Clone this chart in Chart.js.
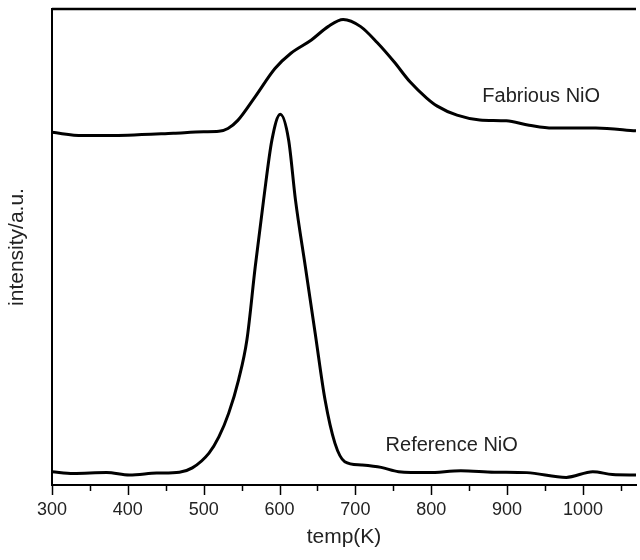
<!DOCTYPE html>
<html>
<head>
<meta charset="utf-8">
<script src="https://cdn.jsdelivr.net/npm/chart.js@4"></script>
<style>
  html, body { margin: 0; padding: 0; background: #fff; }
  #wrap { width: 640px; height: 560px; position: relative; }
</style>
</head>
<body>
<div id="wrap"><canvas id="tpr"></canvas></div>
<script>
// 온도(K)와 세기 값
const fabTemp = [300, 340, 400, 460, 500, 520, 532, 545, 568, 594, 615, 642, 664, 684, 707, 729, 751, 772, 794, 808, 834, 864, 899, 929, 960, 1017, 1070];
const fabIntensity = [74.1, 73.4, 73.5, 73.9, 74.2, 74.3, 74.9, 76.6, 81.6, 87.5, 90.7, 93.5, 96.3, 97.8, 96.3, 92.9, 88.9, 84.7, 81.3, 79.6, 77.7, 76.7, 76.5, 75.6, 75.0, 75.0, 74.4];

const refTemp = [300, 328, 372, 402, 438, 468, 485, 507, 520, 533, 546, 557, 568, 579, 590, 601, 612, 621, 634, 647, 660, 673, 686, 708, 734, 757, 796, 839, 883, 926, 978, 1013, 1039, 1070];
const refIntensity = [2.8, 2.4, 2.6, 2.1, 2.5, 2.7, 3.6, 6.7, 10.1, 15.1, 22.1, 30.5, 45.9, 59.9, 72.5, 77.9, 72.5, 59.9, 45.9, 31.9, 17.9, 8.8, 4.9, 4.2, 3.7, 2.8, 2.6, 3.0, 2.7, 2.6, 1.6, 2.8, 2.2, 2.1];

// x축 눈금
const tickLabels = [300, 400, 500, 600, 700, 800, 900, 1000];
const minorTicks = [350, 450, 550, 650, 750, 850, 950, 1050];

// 곡선 옆 라벨
const curveLabels = [
    { text: 'Fabrious NiO', x: 945, y: 81.7 },
    { text: 'Reference NiO', x: 827, y: 8.4 }
];

const FONT = '"Liberation Sans", Arial, sans-serif';

function toPoints(xs, ys) {
    return xs.map((x, i) => ({ x: x, y: ys[i] }));
}

// 위쪽 테두리, 눈금선, 곡선 라벨을 그리는 플러그인
const framePlugin = {
    id: 'frame',
    afterDraw(chart) {
        const ctx = chart.ctx;
        const area = chart.chartArea;
        const xs = chart.scales.x;
        const ys = chart.scales.y;
        ctx.save();
        ctx.strokeStyle = '#000';

        // 위쪽 테두리
        ctx.lineWidth = 2.5;
        ctx.beginPath();
        ctx.moveTo(area.left, area.top);
        ctx.lineTo(area.right, area.top);
        ctx.stroke();

        // 눈금 (큰 눈금 / 작은 눈금)
        ctx.lineWidth = 1.5;
        tickLabels.forEach(v => {
            const px = Math.round(xs.getPixelForValue(v)) + 0.5;
            ctx.beginPath();
            ctx.moveTo(px, area.bottom);
            ctx.lineTo(px, area.bottom + 10);
            ctx.stroke();
        });
        minorTicks.forEach(v => {
            const px = Math.round(xs.getPixelForValue(v)) + 0.5;
            ctx.beginPath();
            ctx.moveTo(px, area.bottom);
            ctx.lineTo(px, area.bottom + 6);
            ctx.stroke();
        });

        // 곡선 라벨
        ctx.fillStyle = '#222';
        ctx.font = '20px ' + FONT;
        ctx.textAlign = 'center';
        ctx.textBaseline = 'middle';
        curveLabels.forEach(l => {
            ctx.fillText(l.text, xs.getPixelForValue(l.x), ys.getPixelForValue(l.y));
        });
        ctx.restore();
    }
};

new Chart(document.getElementById('tpr'), {
    type: 'line',
    data: {
        datasets: [
            {
                label: 'Fabrious NiO',
                data: toPoints(fabTemp, fabIntensity),
                borderColor: '#000',
                borderWidth: 3,
                pointRadius: 0,
                cubicInterpolationMode: 'monotone',
                fill: false
            },
            {
                label: 'Reference NiO',
                data: toPoints(refTemp, refIntensity),
                borderColor: '#000',
                borderWidth: 3,
                pointRadius: 0,
                cubicInterpolationMode: 'monotone',
                fill: false
            }
        ]
    },
    options: {
        responsive: true,
        maintainAspectRatio: false,
        animation: false,
        layout: { padding: { top: 9, right: 0, bottom: 0, left: 0 } },
        plugins: {
            legend: { display: false },
            tooltip: { enabled: false }
        },
        scales: {
            x: {
                type: 'linear',
                min: 300,
                max: 1070,
                afterFit(s) { s.height = 75; },
                border: { display: true, color: '#000', width: 2 },
                grid: { display: true, drawOnChartArea: false, drawTicks: true, tickLength: 10, color: 'rgba(0,0,0,0)' },
                ticks: {
                    stepSize: 50,
                    autoSkip: false,
                    maxRotation: 0,
                    padding: 4,
                    color: '#222',
                    font: { family: FONT, size: 18 },
                    callback: v => (tickLabels.includes(v) ? String(v) : '')
                },
                title: {
                    display: true,
                    text: 'temp(K)',
                    color: '#222',
                    font: { family: FONT, size: 21 },
                    padding: { top: 0, bottom: 10 }
                }
            },
            y: {
                min: 0,
                max: 100,
                afterFit(s) { s.width = 52; },
                border: { display: true, color: '#000', width: 2 },
                grid: { display: false, drawTicks: false },
                ticks: { display: false },
                title: {
                    display: true,
                    text: 'intensity/a.u.',
                    color: '#222',
                    font: { family: FONT, size: 21 },
                    padding: { top: 5, bottom: 0 }
                }
            }
        }
    },
    plugins: [framePlugin]
});
</script>
</body>
</html>
